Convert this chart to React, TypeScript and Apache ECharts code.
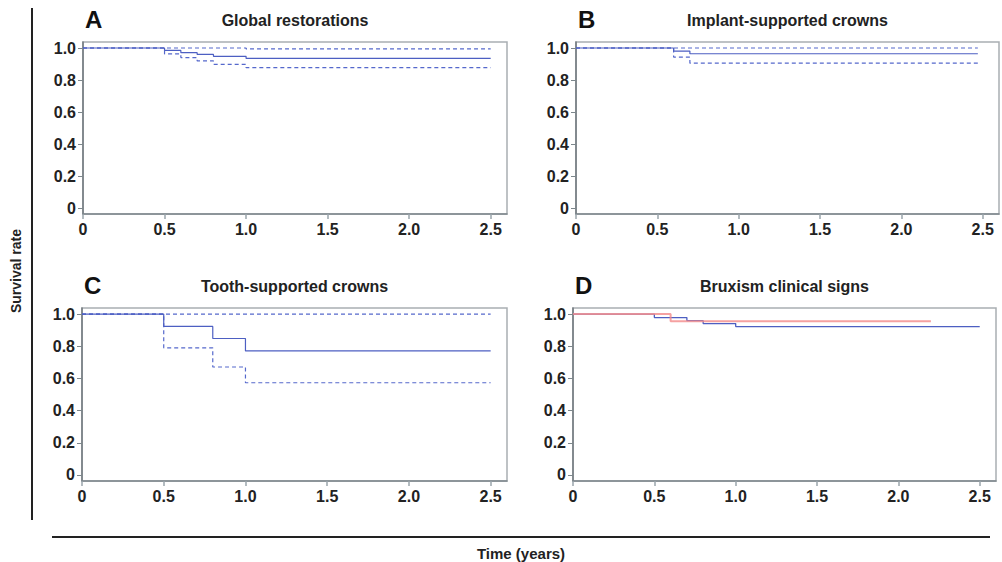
import React, { useEffect, useRef } from "react";
import * as echarts from "echarts";

const xTicks = [0, 0.5, 1.0, 1.5, 2.0, 2.5];
const yTicks = [0, 0.2, 0.4, 0.6, 0.8, 1.0];

const panelLetters = ["A", "B", "C", "D"];
const panelTitles = [
  "Global restorations",
  "Implant-supported crowns",
  "Tooth-supported crowns",
  "Bruxism clinical signs",
];

// Panel A: global restorations
const globalTime = [0, 0.5, 0.6, 0.7, 0.8, 1.0, 2.5];
const globalSurv = [1, 0.985, 0.971, 0.96, 0.948, 0.935, 0.935];
const globalLower = [1, 0.963, 0.94, 0.919, 0.898, 0.877, 0.877];
const globalUpper = [1, 1, 1, 1, 1, 0.994, 0.994];

// Panel B: implant-supported crowns
const implantTime = [0, 0.6, 0.7, 2.47];
const implantSurv = [1, 0.981, 0.964, 0.964];
const implantLower = [1, 0.943, 0.905, 0.905];
const implantUpper = [1, 1, 1, 1];

// Panel C: tooth-supported crowns
const toothTime = [0, 0.5, 0.8, 1.0, 2.5];
const toothSurv = [1, 0.923, 0.848, 0.771, 0.771];
const toothLower = [1, 0.79, 0.671, 0.573, 0.573];
const toothUpper = [1, 1, 1, 1, 1];

// Panel D: bruxism clinical signs
const bruxBlueTime = [0, 0.5, 0.7, 0.8, 1.0, 2.5];
const bruxBlueSurv = [1, 0.978, 0.959, 0.941, 0.922, 0.922];
const bruxRedTime = [0, 0.6, 2.2];
const bruxRedSurv = [1, 0.955, 0.955];

const FONT = "'Liberation Sans', Arial, Helvetica, sans-serif";
const BLUE = "#4d5fc2";
const BLUE_DASH = "#5568cc";
const RED = "#f28a8a";

const grids = [
  { left: 83, top: 42, width: 424, height: 172 },
  { left: 576, top: 42, width: 423, height: 172 },
  { left: 82, top: 308, width: 425, height: 173 },
  { left: 573, top: 308, width: 423, height: 173 },
];

function pairs(t: number[], v: number[]) {
  return t.map((x, i) => [x, v[i]]);
}

function stepSeries(idx: number, t: number[], v: number[], color: string, dashed: boolean, width = 1.2, opacity = 1) {
  return {
    type: "line",
    xAxisIndex: idx,
    yAxisIndex: idx,
    step: "end",
    symbol: "none",
    data: pairs(t, v),
    lineStyle: { color, width, type: dashed ? [4, 3] : "solid", opacity },
    silent: true,
  };
}

export default function App() {
  const ref = useRef<HTMLDivElement>(null);
  useEffect(() => {
    if (!ref.current) return;
    const chart = echarts.init(ref.current, undefined, { renderer: "svg" });

    const xAxes = grids.map((_, i) => ({
      type: "value",
      gridIndex: i,
      min: 0,
      max: 2.6,
      axisLine: { show: true, onZero: false, lineStyle: { color: "#7d878c", width: 1.5 } },
      axisTick: { show: true, customValues: xTicks, length: 5, lineStyle: { color: "#9aa5ab", width: 1.5 } },
      axisLabel: {
        customValues: xTicks,
        formatter: (v: number) => (v === 0 ? "0" : v.toFixed(1)),
        fontWeight: "bold",
        fontSize: 16,
        color: "#222",
        margin: 7,
        fontFamily: FONT,
      },
      splitLine: { show: false },
    }));
    const yAxes = grids.map((_, i) => ({
      type: "value",
      gridIndex: i,
      min: -0.0375,
      max: 1.0375,
      axisLine: { show: true, onZero: false, lineStyle: { color: "#6f777c", width: 1.5 } },
      axisTick: { show: true, customValues: yTicks, length: 5, lineStyle: { color: "#7d878c", width: 1 } },
      axisLabel: {
        customValues: yTicks,
        formatter: (v: number) => (Math.abs(v) < 1e-9 ? "0" : v.toFixed(1)),
        fontWeight: "bold",
        fontSize: 16,
        color: "#222",
        margin: 7,
        fontFamily: FONT,
      },
      splitLine: { show: false },
    }));

    const series = [
      stepSeries(0, globalTime, globalUpper, BLUE_DASH, true),
      stepSeries(0, globalTime, globalLower, BLUE_DASH, true),
      stepSeries(0, globalTime, globalSurv, BLUE, false),
      stepSeries(1, implantTime, implantUpper, BLUE_DASH, true),
      stepSeries(1, implantTime, implantLower, BLUE_DASH, true),
      stepSeries(1, implantTime, implantSurv, BLUE, false),
      stepSeries(2, toothTime, toothUpper, BLUE_DASH, true),
      stepSeries(2, toothTime, toothLower, BLUE_DASH, true),
      stepSeries(2, toothTime, toothSurv, BLUE, false),
      stepSeries(3, bruxBlueTime, bruxBlueSurv, BLUE, false, 1.3),
      stepSeries(3, bruxRedTime, bruxRedSurv, RED, false, 2, 0.8),
    ];

    const graphics: any[] = [];
    grids.forEach((g, i) => {
      const cy = i < 2 ? 19 : 285;
      graphics.push({
        type: "text",
        x: g.left + 2,
        y: cy,
        style: {
          text: panelLetters[i],
          font: `bold 24px ${FONT}`,
          fill: "#111",
          textAlign: "left",
          textVerticalAlign: "middle",
        },
      });
      graphics.push({
        type: "text",
        x: g.left + g.width / 2,
        y: cy + 1,
        style: {
          text: panelTitles[i],
          font: `bold 16px ${FONT}`,
          fill: "#222",
          textAlign: "center",
          textVerticalAlign: "middle",
        },
      });
    });
    graphics.push({
      type: "line",
      shape: { x1: 32, y1: 8, x2: 32, y2: 520 },
      style: { stroke: "#222", lineWidth: 2 },
    });
    graphics.push({
      type: "line",
      shape: { x1: 52, y1: 537, x2: 990, y2: 537 },
      style: { stroke: "#222", lineWidth: 2 },
    });
    graphics.push({
      type: "text",
      x: 16,
      y: 271,
      rotation: Math.PI / 2,
      style: {
        text: "Survival rate",
        font: `bold 14px ${FONT}`,
        fill: "#222",
        textAlign: "center",
        textVerticalAlign: "middle",
      },
    });
    graphics.push({
      type: "text",
      x: 521,
      y: 553,
      style: {
        text: "Time (years)",
        font: `bold 15px ${FONT}`,
        fill: "#222",
        textAlign: "center",
        textVerticalAlign: "middle",
      },
    });

    chart.setOption({
      animation: false,
      backgroundColor: "#fff",
      grid: grids.map((g) => ({
        ...g,
        show: true,
        borderColor: "#a9aeb2",
        borderWidth: 1.5,
        backgroundColor: "transparent",
        containLabel: false,
      })),
      xAxis: xAxes,
      yAxis: yAxes,
      series,
      graphic: graphics,
    });
    return () => chart.dispose();
  }, []);

  return (
    <div
      ref={ref}
      style={{ position: "absolute", left: 0, top: 0, width: 1002, height: 562 }}
    />
  );
}
